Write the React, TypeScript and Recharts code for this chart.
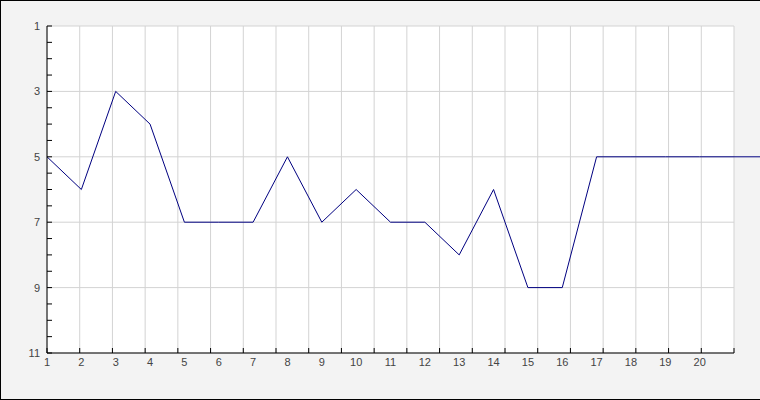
import React from "react";
import { LineChart, Line, XAxis, YAxis, CartesianGrid } from "recharts";

const positions = [1, 2, 3, 4, 5, 6, 7, 8, 9, 10, 11, 12, 13, 14, 15, 16, 17, 18, 19, 20, 21, 22];
const ranks = [5, 6, 3, 4, 7, 7, 7, 5, 7, 6, 7, 7, 8, 6, 9, 9, 5, 5, 5, 5, 5, 5];
const xLabelTicks = [1, 2, 3, 4, 5, 6, 7, 8, 9, 10, 11, 12, 13, 14, 15, 16, 17, 18, 19, 20];
const xGridTicks = [0, 1, 2, 3, 4, 5, 6, 7, 8, 9, 10, 11, 12, 13, 14, 15, 16, 17, 18, 19, 20, 21];
const yMajorTicks = [1, 3, 5, 7, 9, 11];
const yMinorTicks = [1, 1.5, 2, 2.5, 3, 3.5, 4, 4.5, 5, 5.5, 6, 6.5, 7, 7.5, 8, 8.5, 9, 9.5, 10, 10.5, 11];

const data = positions.map((p, i) => ({ pos: p, rank: ranks[i] }));

const FONT = "'Liberation Sans', Arial, sans-serif";
const tickStyle = { fill: "#444", fontSize: 11, fontFamily: FONT };

const EmptyTick = () => <g />;

export default function App() {
  return (
    <div
      style={{
        position: "absolute",
        left: 0,
        top: 0,
        width: 760,
        height: 400,
        boxSizing: "border-box",
        borderLeft: "1px solid #000",
        borderTop: "1px solid #000",
        borderBottom: "1px solid #000",
        background: "#f3f3f3",
        overflow: "hidden",
      }}
    >
      <style>{`.overflow-line g, .overflow-line path { clip-path: none !important; }`}</style>
      <LineChart
        width={759}
        height={398}
        data={data}
        margin={{ top: 25, right: 26, bottom: 0, left: 0 }}
      >
        <CartesianGrid
          xAxisId="a_grid"
          yAxisId="b_main"
          stroke="#d3d3d3"
          fill="#ffffff"
          fillOpacity={1}
        />
        <XAxis
          xAxisId="a_grid"
          type="number"
          dataKey="pos"
          domain={[0, 21]}
          ticks={xGridTicks}
          interval={0}
          height={1}
          mirror
          tick={EmptyTick}
          axisLine={false}
          tickSize={5}
          tickLine={{ stroke: "#000", strokeWidth: 1 }}
          stroke="#000"
          allowDataOverflow
        />
        <XAxis
          xAxisId="b_main"
          type="number"
          dataKey="pos"
          domain={[1, 21]}
          ticks={xLabelTicks}
          interval={0}
          height={46}
          tickLine={false}
          tickSize={2}
          tickMargin={3}
          axisLine={{ stroke: "#000", strokeWidth: 1 }}
          tick={tickStyle}
          allowDataOverflow
        />
        <YAxis
          yAxisId="a_minor"
          type="number"
          domain={[1, 11]}
          reversed
          ticks={yMinorTicks}
          interval={0}
          width={1}
          mirror
          tick={EmptyTick}
          axisLine={false}
          tickSize={5}
          tickLine={{ stroke: "#000", strokeWidth: 1 }}
          stroke="#000"
          allowDataOverflow
        />
        <YAxis
          yAxisId="b_main"
          type="number"
          domain={[1, 11]}
          reversed
          ticks={yMajorTicks}
          interval={0}
          width={46}
          tickLine={false}
          tickSize={5}
          tickMargin={2}
          axisLine={{ stroke: "#000", strokeWidth: 1 }}
          tick={tickStyle}
          allowDataOverflow
        />
        <Line
          xAxisId="b_main"
          yAxisId="b_main"
          className="overflow-line"
          type="linear"
          dataKey="rank"
          stroke="#000080"
          strokeWidth={1}
          dot={false}
          activeDot={false}
          isAnimationActive={false}
        />
      </LineChart>
    </div>
  );
}
